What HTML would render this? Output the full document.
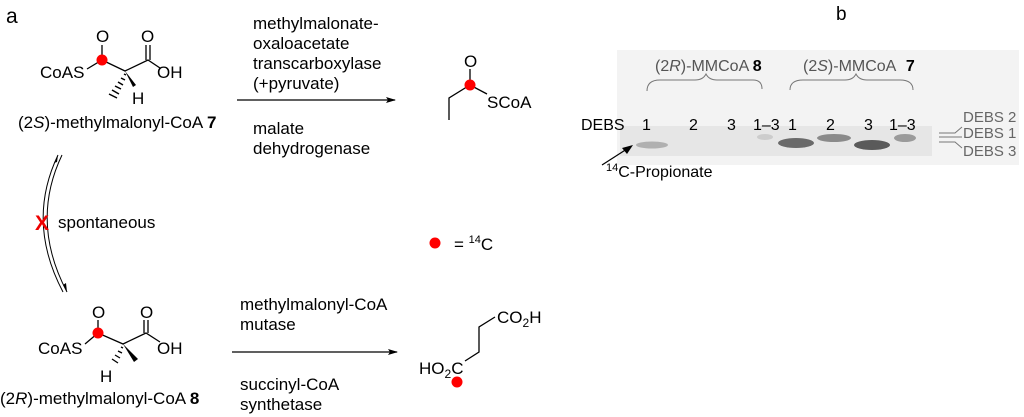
<!DOCTYPE html>
<html><head><meta charset="utf-8"><style>
html,body{margin:0;padding:0;background:#fff;}
svg{display:block;font-family:"Liberation Sans",sans-serif;}
</style></head><body>
<svg width="1024" height="417" viewBox="0 0 1024 417" xmlns="http://www.w3.org/2000/svg">
<defs>
<marker id="ah" markerWidth="10" markerHeight="6" refX="9" refY="3" orient="auto" markerUnits="userSpaceOnUse"><path d="M0,0 L10,3 L0,6 L2,3 Z" fill="#000"/></marker>
</defs>
<g fill="#000" font-size="17">
<text x="6" y="23" font-size="21">a</text>
<!-- top molecule -->
<text x="40" y="78">CoAS</text>
<text x="96" y="42">O</text>
<text x="141" y="42">O</text>
<text x="157" y="78">OH</text>
<text x="132" y="104">H</text>
<text x="18" y="128">(2<tspan font-style="italic">S</tspan>)-methylmalonyl-CoA <tspan font-weight="bold">7</tspan></text>
</g>
<g stroke="#000" stroke-width="1.3" fill="none">
<path d="M87,69 L102,60 L125,71 L148,60 L160,68"/>
<path d="M102,59 L102,45 M146,60 L146,45 M150,60 L150,45"/>
</g>
<path d="M125,71 L133,87 L136,85 Z" fill="#000"/>
<g stroke="#000" stroke-width="1.5">
<path d="M124,74 L126,75 M121,78 L125,80 M118,82 L123,85 M115,86 L121,89 M112,90 L119,94 M109,94 L117,98"/>
</g>
<circle cx="102" cy="60" r="5.5" fill="#f00"/>

<!-- top arrow -->
<g font-size="17" fill="#000">
<text x="253" y="29">methylmalonate-</text>
<text x="253" y="49">oxaloacetate</text>
<text x="253" y="69">transcarboxylase</text>
<text x="253" y="89">(+pyruvate)</text>
<text x="253" y="134">malate</text>
<text x="253" y="154">dehydrogenase</text>
</g>
<line x1="237" y1="100" x2="395" y2="100" stroke="#000" stroke-width="1.2" marker-end="url(#ah)"/>

<!-- propionyl -->
<g stroke="#000" stroke-width="1.3" fill="none">
<path d="M449,120 L449,98 L470,85 L487,94 M470,84 L470,69"/>
</g>
<circle cx="470" cy="85" r="5.5" fill="#f00"/>
<text x="464" y="67" font-size="17">O</text>
<text x="487" y="108" font-size="17">SCoA</text>

<!-- legend -->
<circle cx="435" cy="243" r="5.5" fill="#f00"/>
<text x="454" y="250" font-size="17">= <tspan font-size="11" dy="-7">14</tspan><tspan dy="7">C</tspan></text>

<!-- equilibrium arrows -->
<g stroke="#000" stroke-width="1" fill="none">
<path d="M58,155 Q26,222 63,292"/>
<path d="M62,155 Q30,222 67,292"/>
</g>
<path d="M58,155 L54,163 L57,162 Z" fill="#000"/>
<path d="M67,292 L66,283 L63,285 Z" fill="#000"/>
<text x="35" y="230" font-size="21" font-weight="bold" fill="#e00">X</text>
<text x="58" y="228" font-size="17">spontaneous</text>

<!-- bottom molecule -->
<g fill="#000" font-size="17">
<text x="38" y="354">CoAS</text>
<text x="92" y="318">O</text>
<text x="140" y="318">O</text>
<text x="157" y="354">OH</text>
<text x="100" y="382">H</text>
<text x="0" y="404">(2<tspan font-style="italic">R</tspan>)-methylmalonyl-CoA <tspan font-weight="bold">8</tspan></text>
</g>
<g stroke="#000" stroke-width="1.3" fill="none">
<path d="M85,344 L98,333 L123,344 L146,333 L160,342"/>
<path d="M98,333 L98,320 M144,333 L144,320 M148,333 L148,320"/>
</g>
<path d="M123,344 L134,362 L138,359 Z" fill="#000"/>
<g stroke="#000" stroke-width="1.3">
<path d="M121,347 L123,348 M118,351 L122,353 M115,355 L120,358 M112,359 L118,363"/>
</g>
<circle cx="98" cy="333" r="5.5" fill="#f00"/>

<!-- bottom arrow -->
<g font-size="17" fill="#000">
<text x="240" y="310">methylmalonyl-CoA</text>
<text x="240" y="330">mutase</text>
<text x="240" y="390">succinyl-CoA</text>
<text x="240" y="410">synthetase</text>
</g>
<line x1="232" y1="352" x2="397" y2="352" stroke="#000" stroke-width="1.2" marker-end="url(#ah)"/>

<!-- succinate -->
<g stroke="#000" stroke-width="1.3" fill="none">
<path d="M495,317 L479,327 L479,352 L465,361"/>
</g>
<text x="497" y="323" font-size="17">CO<tspan font-size="12" dy="4">2</tspan><tspan dy="-4">H</tspan></text>
<text x="419" y="374" font-size="17">HO<tspan font-size="12" dy="4">2</tspan><tspan dy="-4">C</tspan></text>
<circle cx="457" cy="382" r="5.5" fill="#f00"/>

<!-- panel b -->
<text x="836" y="20" font-size="19">b</text>
<rect x="617" y="50" width="402" height="115" fill="#f3f3f3"/>
<rect x="620" y="126" width="312" height="30" fill="#e6e6e6"/>
<ellipse cx="652" cy="145" rx="16" ry="3.5" fill="#b0b0b0"/>
<ellipse cx="796" cy="143" rx="18" ry="5" fill="#6a6a6a"/>
<ellipse cx="834" cy="138" rx="17" ry="4" fill="#8a8a8a"/>
<ellipse cx="872" cy="145" rx="18" ry="5" fill="#5a5a5a"/>
<ellipse cx="905" cy="138" rx="11" ry="4" fill="#9a9a9a"/>
<ellipse cx="765" cy="137" rx="8" ry="3" fill="#ccc"/>
<g fill="#555" font-size="16">
<text x="655" y="71">(2<tspan font-style="italic">R</tspan>)-MMCoA <tspan font-weight="bold" fill="#000">8</tspan></text>
<text x="803" y="71">(2<tspan font-style="italic">S</tspan>)-MMCoA <tspan font-weight="bold" fill="#000" dx="6">7</tspan></text>
</g>
<g stroke="#777" stroke-width="1" fill="none">
<path d="M647,91 Q647,80 660,80 L695,80 Q703,80 706,74 Q709,80 717,80 L753,80 Q762,80 762,89"/>
<path d="M790,90 Q790,80 803,80 L845,80 Q853,80 856,74 Q859,80 867,80 L900,80 Q913,80 913,90"/>
</g>
<g font-size="16" fill="#000">
<text x="581" y="130">DEBS</text>
<text x="642" y="130">1</text>
<text x="689" y="130">2</text>
<text x="727" y="130">3</text>
<text x="753" y="130">1–3</text>
<text x="788" y="130">1</text>
<text x="826" y="130">2</text>
<text x="864" y="130">3</text>
<text x="889" y="130">1–3</text>
<text x="606" y="177"><tspan font-size="11" dy="-6">14</tspan><tspan dy="6">C-Propionate</tspan></text>
</g>
<line x1="630" y1="147" x2="602" y2="165" stroke="#000" stroke-width="1.2"/>
<path d="M633,145 L622,148 L627,154 Z" fill="#000"/>
<g font-size="15" fill="#666">
<text x="963" y="122">DEBS 2</text>
<text x="963" y="138">DEBS 1</text>
<text x="963" y="156">DEBS 3</text>
</g>
<g stroke="#777" stroke-width="1" fill="none">
<path d="M939,133 L955,133 L962,127"/>
<path d="M939,137 L962,137"/>
<path d="M939,142 L955,142 L962,148"/>
</g>
</svg>
</body></html>
